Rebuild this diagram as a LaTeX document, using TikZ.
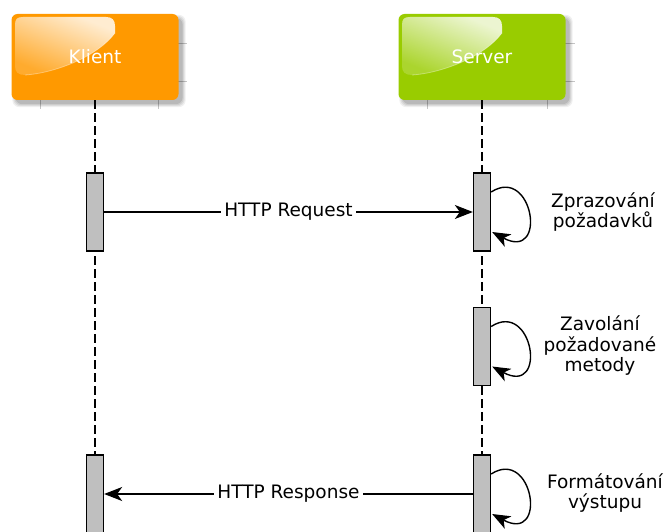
\documentclass[tikz,border=0pt]{standalone}
\usepackage{fontspec}
\setmainfont{DejaVu Sans}
\usetikzlibrary{arrows.meta,calc,backgrounds,fadings}
\definecolor{klientorange}{HTML}{FF9900}
\definecolor{servergreen}{HTML}{99CC00}
\definecolor{barfill}{HTML}{BFBFBF}
\definecolor{framegray}{HTML}{C4C4C4}
\tikzfading[name=glossfade, top color=transparent!18, bottom color=transparent!82]
\begin{document}
\begin{tikzpicture}[x=1pt,y=-1pt,
  every node/.style={font=\fontsize{18.5}{20.5}\selectfont},
  headbox/.style={rectangle, rounded corners=6pt, minimum width=167pt,
    minimum height=86pt, inner sep=0pt, text=white},
  actbar/.style={rectangle, draw=black, line width=1.3pt, fill=barfill,
    minimum width=17pt, minimum height=78pt, inner sep=0pt},
  lifeline/.style={draw=black, line width=1.3pt, dash pattern=on 9pt off 4pt},
  msg/.style={draw=black, line width=1.4pt,
    -{Stealth[length=18pt, width=14pt, inset=5pt]}},
  msglabel/.style={fill=white, inner sep=3pt},
  note/.style={align=center, inner sep=0pt},
  headframe/.style={draw=framegray, line width=0.8pt},
  gloss/.style={fill=white, path fading=glossfade, fading angle=-35},
  glossrim/.style={draw=white, draw opacity=0.35, line width=0.8pt}
]
\path[use as bounding box, clip] (0,0) rectangle (665,532);

% participant headers
\node[headbox, fill=klientorange] (klient) at (95,57) {Klient};
\node[headbox, fill=servergreen] (server) at (482,57) {Server};

% glossy highlight in the upper left of each header
\foreach \n in {klient,server}{
  \begin{scope}[shift={(\n.center)}]
    \fill[gloss]
      (-72,-40) -- (11,-40) .. controls (17,-40) and (20,-37) .. (20,-31)
      -- (20,-24) .. controls (2,0) and (-40,16) .. (-70,18)
      .. controls (-77,18) and (-80,15) .. (-80,9)
      -- (-80,-32) .. controls (-80,-38) and (-78,-40) .. (-72,-40) -- cycle;
    \draw[glossrim] (20,-24) .. controls (2,0) and (-40,16) .. (-70,18);
  \end{scope}
}

% activation bars
\node[actbar] (kb1) at (95,212) {};
\node[actbar] (kb3) at (95,494) {};
\node[actbar] (sb1) at (482,212) {};
\node[actbar] (sb2) at (482,346.5) {};
\node[actbar] (sb3) at (482,494) {};

\coordinate (kend) at (95,545);
\coordinate (send) at (482,545);

\begin{scope}[on background layer]
  % frame lines behind the headers
  \draw[headframe] (40,43) -- (187,43) (40,81) -- (187,81);
  \draw[headframe] (40,43) -- (40,109) (158,43) -- (158,109);
  \draw[headframe] (427,43) -- (575,43) (427,81) -- (575,81);
  \draw[headframe] (427,43) -- (427,109) (547,43) -- (547,109);
  % soft drop shadows
  \foreach \n in {klient,server}{
    \foreach \g/\op in {3/0.06,2/0.07,1/0.08,0/0.10}{
      \fill[black, opacity=\op, rounded corners=7pt]
        ($(\n.north west)+(4-\g,4-\g)$) rectangle ($(\n.south east)+(4+\g,4+\g)$);
    }
  }
  % lifelines
  \draw[lifeline] (klient.south) -- (kend);
  \draw[lifeline] (server.south) -- (send);
\end{scope}

% messages
\draw[msg] (kb1.east) -- (sb1.west) node[midway, msglabel] {HTTP Request};
\draw[msg] (sb3.west) -- (kb3.east) node[midway, msglabel] {HTTP Response};

% self calls on the server
\foreach \b in {sb1,sb2,sb3}{
  \draw[msg] ($(\b.east)+(0,-20)$) .. controls +(42,-27) and +(56,30) .. ($(\b.east)+(1,20)$);
}

% notes
\node[note] (n1) at (603,212) {Zprazování\\požadavků};
\node[note] (n2) at (600,346) {Zavolání\\požadované\\metody};
\node[note] (n3) at (605,493) {Formátování\\výstupu};
\end{tikzpicture}
\end{document}
